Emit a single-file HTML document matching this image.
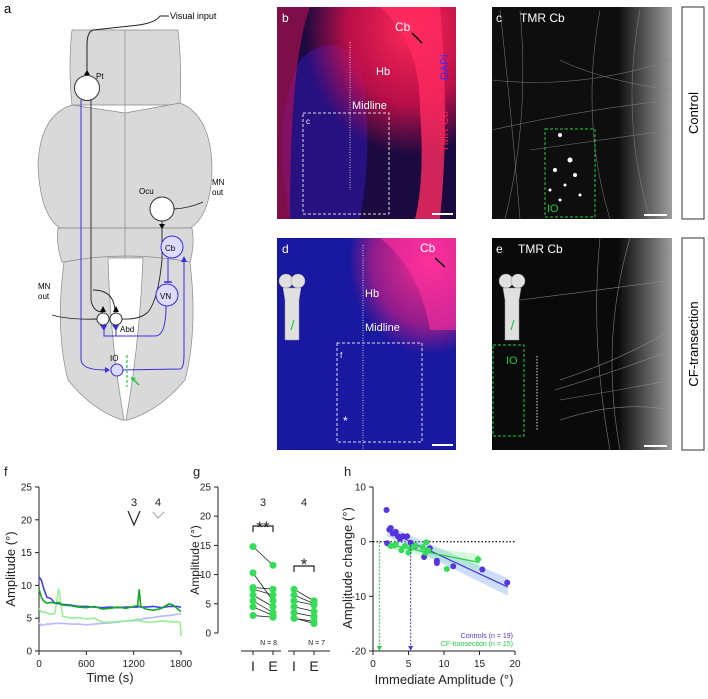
<!DOCTYPE html>
<html><head><meta charset="utf-8"><style>
html,body{margin:0;padding:0;background:#fff;}
svg{display:block;font-family:"Liberation Sans",Arial,sans-serif;}
</style></head><body>
<svg id="fig" width="708" height="699" viewBox="0 0 708 699" xmlns="http://www.w3.org/2000/svg">
<defs>
<radialGradient id="redTop" cx="0.75" cy="0.1" r="0.6"><stop offset="0" stop-color="#ff2a5a"/><stop offset="0.6" stop-color="#e0104a" stop-opacity="0.8"/><stop offset="1" stop-color="#e0104a" stop-opacity="0"/></radialGradient>
<radialGradient id="redTop2" cx="0.85" cy="0.1" r="0.45"><stop offset="0" stop-color="#ff3090"/><stop offset="0.7" stop-color="#e02080" stop-opacity="0.6"/><stop offset="1" stop-color="#e02080" stop-opacity="0"/></radialGradient>
<linearGradient id="whiteR" x1="0" x2="1"><stop offset="0.7" stop-color="#fff" stop-opacity="0"/><stop offset="1" stop-color="#fff" stop-opacity="0.6"/></linearGradient>
</defs>

<!-- Panel a diagram -->
<g>
<text x="4" y="13" font-size="13">a</text>
<path d="M72,30 L178,30 Q182,65 180,105 L72,105 Q68,65 72,30Z" fill="#d9d9d9" stroke="#888" stroke-width="0.7"/>
<path d="M72,105 Q40,115 38,165 Q40,215 60,228 L190,228 Q212,215 212,165 Q210,115 180,103 L125,113Z" fill="#d9d9d9" stroke="#888" stroke-width="0.7"/>
<path d="M58,228 L192,228 Q195,245 190,262 L62,262 Q56,245 58,228Z" fill="#d9d9d9" stroke="#888" stroke-width="0.7"/>
<path d="M64,262 Q125,250 190,262 Q198,330 185,380 Q160,410 128,420 L122,420 Q92,410 68,380 Q55,330 64,262Z" fill="#d9d9d9" stroke="#888" stroke-width="0.7"/>
<path d="M108,258 L143,258 Q140,340 126,420 L124,420 Q110,340 108,258Z" fill="#fff" stroke="#888" stroke-width="0.7"/>
<line x1="125" y1="30" x2="125" y2="258" stroke="#888" stroke-width="0.7"/>
<path d="M169,16 L160,16 Q155,24 130,26 L93,30 Q87,32 87,45 L87,73" fill="none" stroke="#222" stroke-width="1"/>
<text x="170" y="19" font-size="9">Visual input</text>
<polygon points="84,75 90,75 87,70" fill="#000"/>
<circle cx="87" cy="88" r="12.5" fill="#fff" stroke="#333"/>
<text x="96" y="79" font-size="8">Pt</text>
<path d="M91,100 L91,300 Q93,312 103,312" fill="none" stroke="#222" stroke-width="0.9"/>
<path d="M93,290 Q115,290 115,313" fill="none" stroke="#222" stroke-width="0.9"/>
<path d="M81,100 L81,360 Q82,370 105,370" fill="none" stroke="#3a2ee0" stroke-width="1"/>
<polygon points="105,367 105,373 110,370" fill="#3a2ee0"/>
<circle cx="162" cy="209" r="12" fill="#fff" stroke="#333"/>
<text x="139" y="194" font-size="8">Ocu</text>
<path d="M174,209 Q190,208 203,202" fill="none" stroke="#222" stroke-width="0.9"/>
<text x="212" y="185" font-size="8">MN</text><text x="212" y="195" font-size="8">out</text>
<path d="M162,221 L162,260 Q158,300 148,312 Q140,320 121,319" fill="none" stroke="#222" stroke-width="0.9"/>
<polygon points="159,224 165,224 162,229" fill="#000"/>
<circle cx="172" cy="247" r="11" fill="#dcdcff" stroke="#3a2ee0"/>
<text x="165" y="251" font-size="8">Cb</text>
<line x1="168" y1="258" x2="168" y2="282" stroke="#3a2ee0"/><line x1="164" y1="282" x2="172" y2="282" stroke="#3a2ee0" stroke-width="1.5"/>
<circle cx="167" cy="295" r="11" fill="#dcdcff" stroke="#3a2ee0"/>
<text x="160" y="299" font-size="8">VN</text>
<path d="M166,306 Q166,336 155,336 L104,336 L104,328" fill="none" stroke="#3a2ee0"/>
<line x1="116" y1="336" x2="116" y2="328" stroke="#3a2ee0"/>
<polygon points="100,325 107,325 104,331" fill="#3a2ee0"/><polygon points="112,325 119,325 116,331" fill="#3a2ee0"/>
<circle cx="103" cy="319" r="6" fill="#fff" stroke="#333"/>
<circle cx="116" cy="319" r="6" fill="#fff" stroke="#333"/>
<polygon points="100,312 106,312 103,306" fill="#000"/><polygon points="113,312 119,312 116,306" fill="#000"/>
<text x="120" y="332" font-size="8">Abd</text>
<path d="M97,319 Q70,320 52,315" fill="none" stroke="#222" stroke-width="0.9"/>
<text x="38" y="289" font-size="8">MN</text><text x="38" y="299" font-size="8">out</text>
<circle cx="117" cy="370" r="6" fill="#dcdcff" stroke="#3a2ee0"/>
<text x="110" y="361" font-size="8">IO</text>
<path d="M123,370 L180,369 Q184,368 184,355 L184,258" fill="none" stroke="#3a2ee0"/>
<polygon points="181,262 187,262 184,256" fill="#3a2ee0"/>
<line x1="127" y1="355" x2="127" y2="387" stroke="#22cc44" stroke-width="1.2" stroke-dasharray="3,2"/>
<line x1="139" y1="385" x2="133" y2="379" stroke="#22cc44" stroke-width="1.5"/>
<polygon points="131,377 136,378 132,382" fill="#22cc44"/>
</g>

<!-- Microscopy panels -->
<g>
<rect x="277" y="7" width="179" height="212" fill="#1a0a40"/>
<path d="M290,219 Q270,120 300,60 Q330,30 360,60 Q375,140 360,219Z" fill="#2a1290" opacity="0.8"/>
<rect x="277" y="7" width="179" height="212" fill="url(#redTop)"/>
<path d="M380,7 Q420,40 420,110 Q425,180 415,219 L440,219 Q450,120 440,7Z" fill="#ff2a60" opacity="0.8"/>
<path d="M277,7 L310,7 Q290,60 290,219 L277,219Z" fill="#c01050" opacity="0.6"/>
<text x="282" y="22" font-size="12" fill="#fff">b</text>
<text x="395" y="31" font-size="12" fill="#fff">Cb</text>
<line x1="412" y1="33" x2="422" y2="43" stroke="#000" stroke-width="1.5"/>
<text x="376" y="75" font-size="11" fill="#fff">Hb</text>
<text x="352" y="109" font-size="11" fill="#fff">Midline</text>
<line x1="350" y1="42" x2="350" y2="190" stroke="#ccc" stroke-dasharray="1,1.5"/>
<rect x="303" y="113" width="86" height="101" fill="none" stroke="#ddd" stroke-dasharray="3,2" stroke-width="1"/>
<text x="306" y="124" font-size="8" fill="#fff">c</text>
<text transform="translate(448,80) rotate(-90)" font-size="11" fill="#3030ff">DAPI</text>
<text transform="translate(448,152) rotate(-90)" font-size="11" fill="#ff2050">TMR Cb</text>
<line x1="432" y1="214" x2="453" y2="214" stroke="#fff" stroke-width="2"/>
</g>
<g>
<rect x="277" y="238" width="179" height="212" fill="#1818a0"/>
<rect x="277" y="238" width="179" height="212" fill="url(#redTop2)"/>
<path d="M380,238 Q420,270 430,330 L456,330 L456,238Z" fill="#ff30a0" opacity="0.6"/>
<text x="282" y="253" font-size="12" fill="#fff">d</text>
<text x="420" y="252" font-size="12" fill="#fff">Cb</text>
<line x1="435" y1="258" x2="445" y2="267" stroke="#000" stroke-width="1.5"/>
<text x="365" y="297" font-size="11" fill="#fff">Hb</text>
<text x="365" y="331" font-size="11" fill="#fff">Midline</text>
<line x1="363" y1="245" x2="363" y2="450" stroke="#ccc" stroke-dasharray="1,1.5"/>
<rect x="337" y="343" width="85" height="99" fill="none" stroke="#ddd" stroke-dasharray="3,2"/>
<text x="340" y="358" font-size="8" fill="#fff">f</text>
<text x="343" y="425" font-size="12" fill="#fff">*</text>
<g>
<circle cx="286" cy="281" r="7" fill="#e0e0e0" stroke="#999" stroke-width="0.5"/><circle cx="298" cy="281" r="7" fill="#e0e0e0" stroke="#999" stroke-width="0.5"/>
<path d="M283,288 L301,288 L299,300 L299,340 L285,340 L285,300Z" fill="#e0e0e0" stroke="#999" stroke-width="0.5"/>
<path d="M291,330 L294,320" stroke="#22cc44" stroke-width="1.2"/>
</g>
<line x1="432" y1="445" x2="453" y2="445" stroke="#fff" stroke-width="2"/>
</g>
<g>
<rect x="492" y="7" width="180" height="212" fill="#0e0e0e"/>
<rect x="492" y="7" width="180" height="212" fill="url(#whiteR)"/>
<g stroke="#888" stroke-width="0.6" fill="none" opacity="0.8">
<path d="M500,10 Q510,100 520,219"/><path d="M520,10 Q530,120 505,219"/><path d="M492,80 Q580,90 672,60"/><path d="M492,130 Q580,110 672,100"/><path d="M600,10 Q580,120 610,219"/><path d="M640,10 Q620,120 650,219"/><path d="M560,60 Q600,80 672,90"/><path d="M530,150 Q600,140 672,130"/>
</g>
<g fill="#fff"><circle cx="560" cy="135" r="2"/><circle cx="570" cy="160" r="2.5"/><circle cx="555" cy="170" r="2"/><circle cx="575" cy="175" r="2"/><circle cx="550" cy="190" r="1.5"/><circle cx="565" cy="185" r="1.5"/><circle cx="580" cy="195" r="1.5"/><circle cx="560" cy="200" r="1.5"/></g>
<rect x="545" y="129" width="50" height="88" fill="none" stroke="#22cc44" stroke-dasharray="3,2"/>
<text x="547" y="212" font-size="11" fill="#22cc44">IO</text>
<text x="496" y="22" font-size="12" fill="#fff">c</text>
<text x="520" y="22" font-size="12" fill="#fff">TMR Cb</text>
<line x1="644" y1="215" x2="667" y2="215" stroke="#fff" stroke-width="2"/>
</g>
<g>
<rect x="492" y="238" width="180" height="212" fill="#0a0a0a"/>
<rect x="492" y="238" width="180" height="212" fill="url(#whiteR)"/>
<g stroke="#999" stroke-width="0.6" fill="none" opacity="0.8">
<path d="M560,380 Q620,360 672,330"/><path d="M555,390 Q620,370 672,350"/><path d="M560,400 Q620,390 672,380"/><path d="M600,238 Q590,340 610,450"/><path d="M630,238 Q600,340 620,450"/><path d="M520,300 Q600,290 672,280"/><path d="M560,420 Q620,400 672,410"/>
</g>
<rect x="493" y="345" width="31" height="91" fill="none" stroke="#22cc44" stroke-dasharray="3,2"/>
<text x="506" y="364" font-size="11" fill="#22cc44">IO</text>
<line x1="537" y1="356" x2="537" y2="430" stroke="#ddd" stroke-dasharray="1.5,1.5"/>
<text x="496" y="253" font-size="12" fill="#fff">e</text>
<text x="518" y="253" font-size="12" fill="#fff">TMR Cb</text>
<g>
<circle cx="506" cy="281" r="7" fill="#e0e0e0" stroke="#999" stroke-width="0.5"/><circle cx="518" cy="281" r="7" fill="#e0e0e0" stroke="#999" stroke-width="0.5"/>
<path d="M503,288 L521,288 L519,300 L519,340 L505,340 L505,300Z" fill="#e0e0e0" stroke="#999" stroke-width="0.5"/>
<path d="M511,330 L514,320" stroke="#22cc44" stroke-width="1.2"/>
</g>
<line x1="644" y1="446" x2="667" y2="446" stroke="#fff" stroke-width="2"/>
</g>
<g>
<rect x="682" y="7" width="22" height="212" fill="#fff" stroke="#333"/>
<text transform="translate(698,113) rotate(-90)" font-size="13" text-anchor="middle">Control</text>
<rect x="682" y="238" width="22" height="212" fill="#fff" stroke="#333"/>
<text transform="translate(698,344) rotate(-90)" font-size="13" text-anchor="middle">CF-transection</text>
</g>

<g id="charts"></g>
</svg>
<script>
// ---- Panel f data ----
const fTimes=[0,30,60,100,150,200,250,300,400,500,600,700,800,900,1000,1100,1200,1250,1270,1290,1350,1450,1550,1650,1700,1750,1790,1800];
const fBlue=[11.3,10.8,9.5,8.2,8.0,7.3,7.2,7.1,7.0,6.8,6.8,6.7,6.6,6.7,6.6,6.7,6.7,6.7,6.8,6.7,6.7,6.8,6.6,6.8,6.8,6.8,6.7,6.7];
const fGreen=[9.5,8.2,7.6,7.3,7.4,7.3,7.4,7.0,6.9,6.7,6.6,6.8,6.4,6.5,6.7,6.5,6.8,6.9,9.4,6.8,6.4,6.2,6.5,7.2,7.0,6.5,6.1,6.0];
const fLightGreen=[6.5,5.9,6.0,5.8,5.6,5.7,9.5,5.3,5.0,5.1,4.9,5.0,4.4,4.4,4.5,4.6,4.7,4.9,4.5,4.6,4.4,4.4,4.6,4.5,4.4,4.5,4.3,2.3];
const fLightBlue=[4.3,3.9,4.0,4.1,4.1,4.2,4.2,4.2,4.1,4.1,4.0,4.1,4.2,4.3,4.4,4.6,4.6,4.7,4.8,4.8,5.0,5.1,5.3,5.4,5.5,5.6,5.7,5.6];
const fYTicks=[0,5,10,15,20,25];
const fXTicks=[0,600,1200,1800];
// ---- Panel g data ----
const g3I=[14.8,10.3,7.8,7.5,6.5,5.5,4.5,3.0];
const g3E=[11.6,5.5,7.5,6.5,4.5,3.5,3.0,2.7];
const g4I=[7.5,6.5,5.5,4.5,3.5,2.5,2.6];
const g4E=[5.5,5.0,4.8,3.7,2.8,2.0,1.6];
const gYTicks=[0,5,10,15,20,25];
// ---- Panel h data ----
const hCtrlX=[1.9,2.0,2.3,2.5,2.8,3.2,3.5,3.8,4.2,4.8,5.3,6.0,7.2,8.0,9.0,9.0,11.3,15.4,18.9];
const hCtrlY=[5.8,-0.3,2.2,2.5,1.5,1.8,1.0,0.5,1.0,1.0,-0.2,-0.8,-2.8,-1.2,-3.5,-3.9,-4.5,-5.1,-7.5];
const hCFX=[2.5,3.0,3.2,4.0,4.5,5.0,5.3,5.5,6.0,7.0,7.4,7.5,7.8,10.4,14.8];
const hCFY=[-0.8,-0.7,-0.5,-1.6,-0.8,-2.0,-1.2,-1.0,-0.7,-1.0,-2.0,-0.1,-1.6,-5.0,-3.2];
const hCtrlFit=[[2,2.0],[19,-8.3]];
const hCFFit=[[2,-0.5],[15,-3.8]];
const hXTicks=[0,5,10,15,20];
const hYTicks=[-20,-10,0,10];
const hArrowX=[0.9,5.3];

const NS="http://www.w3.org/2000/svg";
const root=document.getElementById('charts');
function el(tag,attrs,parent){const e=document.createElementNS(NS,tag);for(const k in attrs)e.setAttribute(k,attrs[k]);(parent||root).appendChild(e);return e;}
function txt(x,y,s,size,anchor,parent,fill){const t=el('text',{x:x,y:y,'font-size':size,'text-anchor':anchor||'start',fill:fill||'#222'},parent);t.textContent=s;return t;}

// Panel f
const fx=t=>39+t/1800*142, fy=v=>651-v/25*164;
const gf=el('g',{});


txt(4,476,'f',13,'start',gf);
el('line',{x1:39,y1:487,x2:39,y2:651,stroke:'#222'},gf);
el('line',{x1:39,y1:651,x2:181,y2:651,stroke:'#222'},gf);
fYTicks.forEach(v=>{el('line',{x1:35,y1:fy(v),x2:39,y2:fy(v),stroke:'#222'},gf);const t=txt(32,fy(v)+3.5,String(v),10,'end',gf);});
fXTicks.forEach(v=>{el('line',{x1:fx(v),y1:651,x2:fx(v),y2:655,stroke:'#222'},gf);const t=txt(fx(v),667,String(v),10,'middle',gf);});
const fyt=txt(0,0,'Amplitude (°)',13,'middle',gf);fyt.setAttribute('transform','translate(15,569) rotate(-90)');

const fxt=txt(110,682,'Time (s)',13,'middle',gf);

[[fLightBlue,'#b8b8ff','trace-light-blue'],[fLightGreen,'#98ee98','trace-light-green'],[fBlue,'#4040ee','trace-blue'],[fGreen,'#11aa22','trace-green']].forEach(([arr,c,n])=>{
 const p=el('polyline',{points:arr.map((v,i)=>fx(fTimes[i])+','+fy(v)).join(' '),fill:'none',stroke:c,'stroke-width':1.6},gf);
 
});
txt(134,506,'3',11,'middle',gf);txt(158,506,'4',11,'middle',gf);
el('polyline',{points:'128,511 134,525 140,511',fill:'none',stroke:'#222','stroke-width':1.2},gf);
el('polyline',{points:'153,512 158,518 164,512',fill:'none',stroke:'#aaa','stroke-width':1.2},gf);

// Panel g
const gy=v=>633-v/25*146;
const gg=el('g',{});


txt(193,476,'g',13,'start',gg);
el('line',{x1:218,y1:487,x2:218,y2:633,stroke:'#222'},gg);
gYTicks.forEach(v=>{el('line',{x1:214,y1:gy(v),x2:218,y2:gy(v),stroke:'#222'},gg);const t=txt(211,gy(v)+3.5,String(v),10,'end',gg);});
const gyt=txt(0,0,'Amplitude (°)',12,'middle',gg);gyt.setAttribute('transform','translate(199,560) rotate(-90)');

el('line',{x1:241,y1:651,x2:281,y2:651,stroke:'#222'},gg);
el('line',{x1:288,y1:651,x2:330,y2:651,stroke:'#222'},gg);
[[253,'I'],[273,'E'],[294,'I'],[314,'E']].forEach(([x,s])=>{el('line',{x1:x,y1:651,x2:x,y2:655,stroke:'#222'},gg);txt(x,671,s,14,'middle',gg);});
txt(277,645,'N = 8',7,'end',gg);txt(325,645,'N = 7',7,'end',gg);
txt(263,506,'3',11,'middle',gg);txt(304,506,'4',11,'middle',gg);
txt(263,533,'**',17,'middle',gg);txt(304,570,'*',17,'middle',gg);
el('polyline',{points:'253,532 253,526 273,526 273,532',fill:'none',stroke:'#222','stroke-width':1.2},gg);
el('polyline',{points:'294,572 294,566 314,566 314,572',fill:'none',stroke:'#222','stroke-width':1.2},gg);
function pairs(I,E,x1,x2,nm){I.forEach((v,i)=>{
 const l=el('line',{x1:x1,y1:gy(v),x2:x2,y2:gy(E[i]),stroke:'#222','stroke-width':0.8},gg);
 
 const a=el('circle',{cx:x1,cy:gy(v),r:3.5,fill:'#33dd55'},gg);
 
 const b=el('circle',{cx:x2,cy:gy(E[i]),r:3.5,fill:'#33dd55'},gg);
 
});}
pairs(g3I,g3E,253,273,'session3');pairs(g4I,g4E,294,314,'session4');

// Panel h
const hx=v=>373+v/20*142, hy=v=>651-(v+20)/30*164;
const gh=el('g',{});


txt(344,476,'h',13,'start',gh);
el('line',{x1:373,y1:487,x2:373,y2:651,stroke:'#222'},gh);
el('line',{x1:373,y1:651,x2:515,y2:651,stroke:'#222'},gh);
hYTicks.forEach(v=>{el('line',{x1:369,y1:hy(v),x2:373,y2:hy(v),stroke:'#222'},gh);const t=txt(366,hy(v)+3.5,String(v),10,'end',gh);});
hXTicks.forEach(v=>{el('line',{x1:hx(v),y1:651,x2:hx(v),y2:655,stroke:'#222'},gh);const t=txt(hx(v),667,String(v),10,'middle',gh);});
const hyt=txt(0,0,'Amplitude change (°)',13,'middle',gh);hyt.setAttribute('transform','translate(352,568) rotate(-90)');

const hxt=txt(444,684,'Immediate Amplitude (°)',13,'middle',gh);

el('line',{x1:hx(0),y1:hy(0),x2:hx(20),y2:hy(0),stroke:'#222','stroke-width':1.3,'stroke-dasharray':'1.5,2'},gh);
function band(fit,w0,w1,c){const [a,b]=fit;const pts=[[a[0],a[1]+w0],[b[0],b[1]+w1],[b[0],b[1]-w1],[a[0],a[1]-w0]];
 return el('polygon',{points:pts.map(p=>hx(p[0])+','+hy(p[1])).join(' '),fill:c,opacity:0.35},gh);}
const bc=band(hCtrlFit,1.0,1.6,'#6fa0ee');
const bg=band(hCFFit,0.6,1.4,'#88ee99');
const lc=el('line',{x1:hx(hCtrlFit[0][0]),y1:hy(hCtrlFit[0][1]),x2:hx(hCtrlFit[1][0]),y2:hy(hCtrlFit[1][1]),stroke:'#4433dd','stroke-width':1.2},gh);

const lg=el('line',{x1:hx(hCFFit[0][0]),y1:hy(hCFFit[0][1]),x2:hx(hCFFit[1][0]),y2:hy(hCFFit[1][1]),stroke:'#22cc44','stroke-width':1.2},gh);

hCtrlX.forEach((x,i)=>{const c=el('circle',{cx:hx(x),cy:hy(hCtrlY[i]),r:3,fill:'#5533dd'},gh);
 });
hCFX.forEach((x,i)=>{const c=el('circle',{cx:hx(x),cy:hy(hCFY[i]),r:3,fill:'#33dd55'},gh);
 });
[['#22cc44',hArrowX[0]],['#5533dd',hArrowX[1]]].forEach(([c,x])=>{
 const a=el('line',{x1:hx(x),y1:hy(0),x2:hx(x),y2:hy(-20)-4,stroke:c,'stroke-width':1,'stroke-dasharray':'2,1.5'},gh);
 
 const h=el('polygon',{points:(hx(x)-2.5)+','+(hy(-20)-5)+' '+(hx(x)+2.5)+','+(hy(-20)-5)+' '+hx(x)+','+hy(-20),fill:c},gh);
});
const lg1=txt(513,638,'Controls (n = 19)',7,'end',gh,'#5533dd');

const lg2=txt(513,646,'CF-transection (n = 15)',7,'end',gh,'#22cc44');

</script>
</body></html>
